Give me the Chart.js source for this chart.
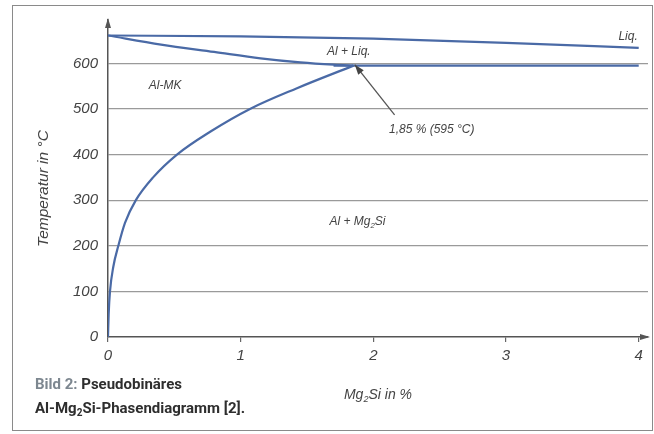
<!DOCTYPE html>
<html><head><meta charset="utf-8">
<script src="https://cdn.jsdelivr.net/npm/chart.js@4.4.0/dist/chart.umd.min.js"></script>
<style>
html,body{margin:0;padding:0;background:#fff;}
#wrap{position:absolute;left:0;top:0;width:654px;height:434px;}
#frame{position:absolute;left:12px;top:5px;width:641px;height:426px;border:1.5px solid #8a8a8a;box-sizing:border-box;}
</style></head>
<body>
<div id="wrap"><div id="frame"></div><canvas id="c" width="654" height="434"></canvas></div>
<script>
// Data (Mg2Si in %, Temperatur in °C)
const liquidusX = [0, 1, 2, 3, 4];
const liquidusY = [661, 659, 654, 645, 634];
const upperX = [0, 0.4, 0.8, 1.15, 1.45, 1.7, 1.85];
const upperY = [661, 641, 625, 611, 602, 597, 595];
const eutecticX = [1.7, 4];
const eutecticY = [595, 595];
const solvusX = [0, 0.005, 0.015, 0.04, 0.078, 0.128, 0.21, 0.34, 0.52, 0.77, 1.07, 1.42, 1.85];
const solvusY = [0, 50, 100, 154, 200, 250, 300, 350, 400, 450, 500, 545, 595];
const yTicks = [0, 100, 200, 300, 400, 500, 600];
const xTicks = [0, 1, 2, 3, 4];

const LINE = '#4a6aa6';
const pts = (xs, ys) => xs.map((x, i) => ({x: x, y: ys[i]}));
const ds = (xs, ys, mono) => ({data: pts(xs, ys), borderColor: LINE, borderWidth: 2.2, pointRadius: 0, showLine: true, fill: false, cubicInterpolationMode: mono ? 'monotone' : 'default', tension: 0});

function drawRich(ctx, parts, cx, cy, size, color) {
  ctx.save();
  ctx.fillStyle = color;
  ctx.textBaseline = 'middle';
  let w = 0;
  parts.forEach(p => { ctx.font = 'italic ' + (p.sub ? size * 0.65 : size) + 'px "Liberation Sans", Arial, sans-serif'; w += ctx.measureText(p.t).width; });
  let x = cx - w / 2;
  parts.forEach(p => {
    const s = p.sub ? size * 0.65 : size;
    ctx.font = 'italic ' + s + 'px "Liberation Sans", Arial, sans-serif';
    ctx.textAlign = 'left';
    ctx.fillText(p.t, x, p.sub ? cy + size * 0.3 : cy);
    x += ctx.measureText(p.t).width;
  });
  ctx.restore();
}

const annotations = [
  {x: 3.92, y: 658, parts: [{t: 'Liq.'}], size: 12},
  {x: 1.815, y: 625, parts: [{t: 'Al + Liq.'}], size: 12},
  {x: 0.43, y: 550, parts: [{t: 'Al-MK'}], size: 12},
  {x: 2.44, y: 454, parts: [{t: '1,85 % (595 °C)'}], size: 12},
  {x: 1.88, y: 252, parts: [{t: 'Al + Mg'}, {t: '2', sub: true}, {t: 'Si'}], size: 12}
];
const arrowFrom = {x: 2.16, y: 487};
const arrowTo = {x: 1.86, y: 597};

const deco = {
  id: 'deco',
  afterDraw(chart) {
    const ctx = chart.ctx, xs = chart.scales.x, ys = chart.scales.y, a = chart.chartArea;
    ctx.save();
    // axis arrows
    ctx.fillStyle = '#555';
    ctx.beginPath(); ctx.moveTo(a.left, a.top - 2); ctx.lineTo(a.left - 3, a.top + 8); ctx.lineTo(a.left + 3, a.top + 8); ctx.closePath(); ctx.fill();
    ctx.beginPath(); ctx.moveTo(a.right + 2, a.bottom); ctx.lineTo(a.right - 8, a.bottom - 3); ctx.lineTo(a.right - 8, a.bottom + 3); ctx.closePath(); ctx.fill();
    // annotations
    annotations.forEach(an => drawRich(ctx, an.parts, xs.getPixelForValue(an.x), ys.getPixelForValue(an.y), an.size, '#444'));
    // pointer arrow
    const x1 = xs.getPixelForValue(arrowFrom.x), y1 = ys.getPixelForValue(arrowFrom.y);
    const x2 = xs.getPixelForValue(arrowTo.x), y2 = ys.getPixelForValue(arrowTo.y);
    ctx.strokeStyle = '#555'; ctx.lineWidth = 1.3;
    ctx.beginPath(); ctx.moveTo(x1, y1); ctx.lineTo(x2, y2); ctx.stroke();
    const ang = Math.atan2(y2 - y1, x2 - x1);
    ctx.fillStyle = '#444';
    ctx.beginPath(); ctx.moveTo(x2, y2);
    ctx.lineTo(x2 - 10 * Math.cos(ang) + 3.5 * Math.sin(ang), y2 - 10 * Math.sin(ang) - 3.5 * Math.cos(ang));
    ctx.lineTo(x2 - 10 * Math.cos(ang) - 3.5 * Math.sin(ang), y2 - 10 * Math.sin(ang) + 3.5 * Math.cos(ang));
    ctx.closePath(); ctx.fill();
    // axis titles
    ctx.save();
    ctx.translate(44, (a.top + a.bottom) / 2 + 10);
    ctx.rotate(-Math.PI / 2);
    drawRich(ctx, [{t: 'Temperatur in °C'}], 0, 0, 15.5, '#444');
    ctx.restore();
    drawRich(ctx, [{t: 'Mg'}, {t: '2', sub: true}, {t: 'Si in %'}], 378, 395, 14, '#444');
    // caption
    ctx.textAlign = 'left'; ctx.textBaseline = 'middle';
    ctx.font = 'bold 15px Roboto, "Liberation Sans", sans-serif';
    ctx.fillStyle = '#7d8790';
    ctx.fillText('Bild 2:', 35, 385);
    let w = ctx.measureText('Bild 2: ').width;
    ctx.fillStyle = '#2e2e2e';
    ctx.fillText('Pseudobinäres', 35 + w, 385);
    let x = 35;
    ctx.fillText('Al-Mg', x, 409); x += ctx.measureText('Al-Mg').width;
    ctx.font = 'bold 10px Roboto, "Liberation Sans", sans-serif';
    ctx.fillText('2', x, 413); x += ctx.measureText('2').width;
    ctx.font = 'bold 15px Roboto, "Liberation Sans", sans-serif';
    ctx.fillText('Si-Phasendiagramm [2].', x, 409);
    ctx.restore();
  }
};

new Chart(document.getElementById('c'), {
  type: 'scatter',
  data: {datasets: [
    ds(liquidusX, liquidusY, true),
    ds(upperX, upperY, true),
    ds(eutecticX, eutecticY, false),
    ds(solvusX, solvusY, true)
  ]},
  options: {
    responsive: false, animation: false, devicePixelRatio: 1,
    layout: {padding: {left: 0, right: 6, top: 20, bottom: 0}},
    plugins: {legend: {display: false}, tooltip: {enabled: false}},
    scales: {
      x: {
        type: 'linear', min: 0, max: 4.07,
        afterBuildTicks: s => { s.ticks = xTicks.map(v => ({value: v})); },
        afterFit: s => { s.height = 97; },
        grid: {drawOnChartArea: false, drawTicks: true, tickLength: 5, color: '#666', lineWidth: 1.2},
        border: {display: true, color: '#555', width: 1.5},
        ticks: {padding: 5, color: '#444', font: {family: '"Liberation Sans", Arial, sans-serif', size: 15, style: 'italic'}}
      },
      y: {
        type: 'linear', min: 0, max: 695,
        afterBuildTicks: s => { s.ticks = yTicks.map(v => ({value: v})); },
        afterFit: s => { s.width = 108; },
        grid: {drawTicks: false, color: ctx => ctx.tick && ctx.tick.value === 0 ? 'rgba(0,0,0,0)' : '#9a9a9a', lineWidth: 1.2},
        border: {display: true, color: '#555', width: 1.5},
        ticks: {padding: 10, color: '#444', font: {family: '"Liberation Sans", Arial, sans-serif', size: 15, style: 'italic'}}
      }
    }
  },
  plugins: [deco]
});
</script>
</body></html>
